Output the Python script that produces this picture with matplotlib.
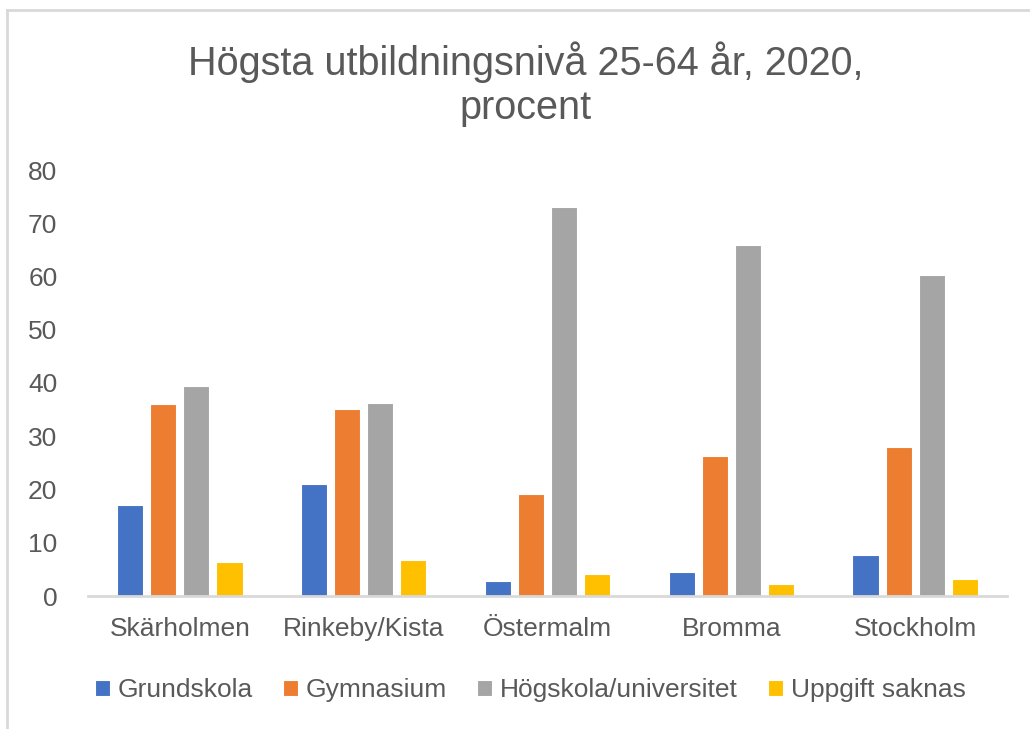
import numpy as np
import matplotlib
matplotlib.use('Agg')
import matplotlib.pyplot as plt
from matplotlib.lines import Line2D

plt.rcParams['font.family'] = ['Liberation Sans', 'DejaVu Sans']

areas = ['Skärholmen', 'Rinkeby/Kista', 'Östermalm', 'Bromma', 'Stockholm']
series = ['Grundskola', 'Gymnasium', 'Högskola/universitet', 'Uppgift saknas']
grundskola = [17.0, 21.0, 2.9, 4.6, 7.7]
gymnasium = [36.1, 35.2, 19.2, 26.2, 27.9]
hogskola = [39.4, 36.3, 73.1, 65.9, 60.2]
saknas = [6.4, 6.8, 4.1, 2.2, 3.1]
colors = ['#4472C4', '#ED7D31', '#A5A5A5', '#FFC000']

W, H = 1030, 729
fig = plt.figure(figsize=(W / 100, H / 100), dpi=100)
ax = fig.add_axes([88 / W, 1 - 596 / H, (1007 - 88) / W, (596 - 170) / H])

x = np.arange(len(areas))
pitch, width = 0.18, 0.142
for j, (vals, name) in enumerate(zip([grundskola, gymnasium, hogskola, saknas], series)):
    ax.bar(x + (j - 1.5) * pitch, vals, width, color=colors[j], label=name,
           edgecolor='white', linewidth=0.8)

ax.set_xlim(-0.5, len(areas) - 0.5)
ax.set_ylim(0, 80)
ax.set_yticks(range(0, 81, 10))
ax.set_xticks(x)
ax.set_xticklabels(areas)
ax.tick_params(axis='both', length=0, labelsize=19, colors='#595959')
ax.tick_params(axis='x', pad=15)
ax.tick_params(axis='y', pad=22)
for s in ['top', 'right', 'left']:
    ax.spines[s].set_visible(False)
ax.spines['bottom'].set_color('#D9D9D9')
ax.spines['bottom'].set_linewidth(2)

# two-line title, Excel style
fig.text(0.51, 1 - 84 / H, 'Högsta utbildningsnivå 25-64 år, 2020,\nprocent',
         ha='center', va='center', fontsize=28.5, color='#595959', linespacing=1.2)

fig.legend(loc='center', bbox_to_anchor=(0.515, 1 - 690 / H), ncol=4, frameon=False,
           fontsize=19, labelcolor='#595959', handlelength=0.55, handleheight=0.55,
           handletextpad=0.3, columnspacing=1.15)

fig.add_artist(Line2D([7 / W, 7 / W], [0, 1 - 10 / H], color='#D9D9D9', linewidth=2))
fig.add_artist(Line2D([7 / W, 1], [1 - 10 / H, 1 - 10 / H], color='#D9D9D9', linewidth=2))

fig.savefig('out.png', dpi=100)
